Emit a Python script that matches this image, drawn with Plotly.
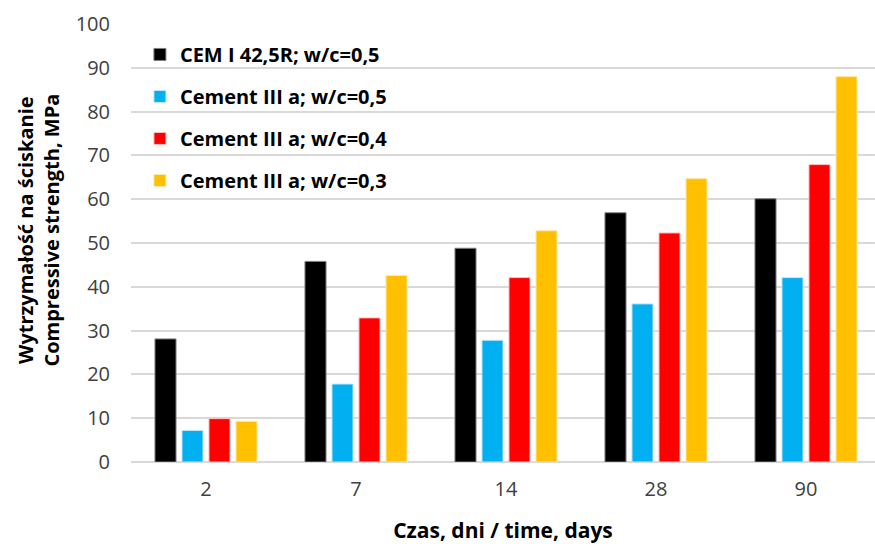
import plotly.graph_objects as go

# Curing time (days) and compressive strength (MPa) for each mix
days = ["2", "7", "14", "28", "90"]
cem_i_05 = [28.1, 45.8, 48.8, 56.9, 60.1]
cem_iii_05 = [7.2, 17.8, 27.8, 36.1, 42.1]
cem_iii_04 = [9.9, 32.9, 42.1, 52.3, 67.9]
cem_iii_03 = [9.3, 42.6, 52.8, 64.7, 88.0]

series_names = [
    "CEM I 42,5R; w/c=0,5",
    "Cement III a; w/c=0,5",
    "Cement III a; w/c=0,4",
    "Cement III a; w/c=0,3",
]
series_values = [cem_i_05, cem_iii_05, cem_iii_04, cem_iii_03]
series_colors = ["#000000", "#00b0f0", "#ff0000", "#ffc000"]
outline_colors = ["#7f7f7f", "#bfe9fb", "#ffbfbf", "#ffe9a6"]

FONT = "'Open Sans', 'Noto Sans', sans-serif"

fig = go.Figure()
for i, (name, vals, col, oc) in enumerate(zip(series_names, series_values, series_colors, outline_colors)):
    fig.add_trace(go.Bar(
        x=days, y=vals, name=name,
        marker=dict(color=col, line=dict(color=oc, width=1)),
        legendgroup=f"g{i}",
    ))

fig.update_layout(
    width=875, height=544,
    margin=dict(l=131, r=0, t=24, b=82),
    paper_bgcolor="white", plot_bgcolor="white",
    barmode="group", bargap=0.28, bargroupgap=0.22,
    font=dict(family=FONT, color="#000000"),
    legend=dict(
        x=0.012, y=0.975, xanchor="left", yanchor="top",
        bgcolor="rgba(255,255,255,0)",
        font=dict(family=FONT, size=20, color="#000000", weight="bold"),
        traceorder="grouped", tracegroupgap=13,
        itemwidth=30,
    ),
    xaxis=dict(
        range=[-0.5, 4.46],
        showgrid=False, showline=False, ticks="",
        tickfont=dict(family=FONT, size=20, color="#404040"),
        ticklabelstandoff=13,
        title=dict(text="<b>Czas, dni / time, days</b>",
                   font=dict(family=FONT, size=21, color="#000000"),
                   standoff=22),
    ),
    yaxis=dict(
        range=[0, 100], dtick=10,
        showgrid=True, gridcolor="#d9d9d9", gridwidth=1.5,
        zeroline=True, zerolinecolor="#d9d9d9", zerolinewidth=1.5,
        showline=False, ticks="",
        tickfont=dict(family=FONT, size=20, color="#404040"),
        ticklabelstandoff=20,
    ),
    annotations=[dict(
        text="<b>Wytrzymałość na ściskanie<br>Compressive strength, MPa</b>",
        textangle=-90, xref="paper", yref="paper",
        x=-0.124, y=0.53, xanchor="center", yanchor="middle",
        showarrow=False,
        font=dict(family=FONT, size=20, color="#000000"),
    )],
)

fig.write_html("out.html")
